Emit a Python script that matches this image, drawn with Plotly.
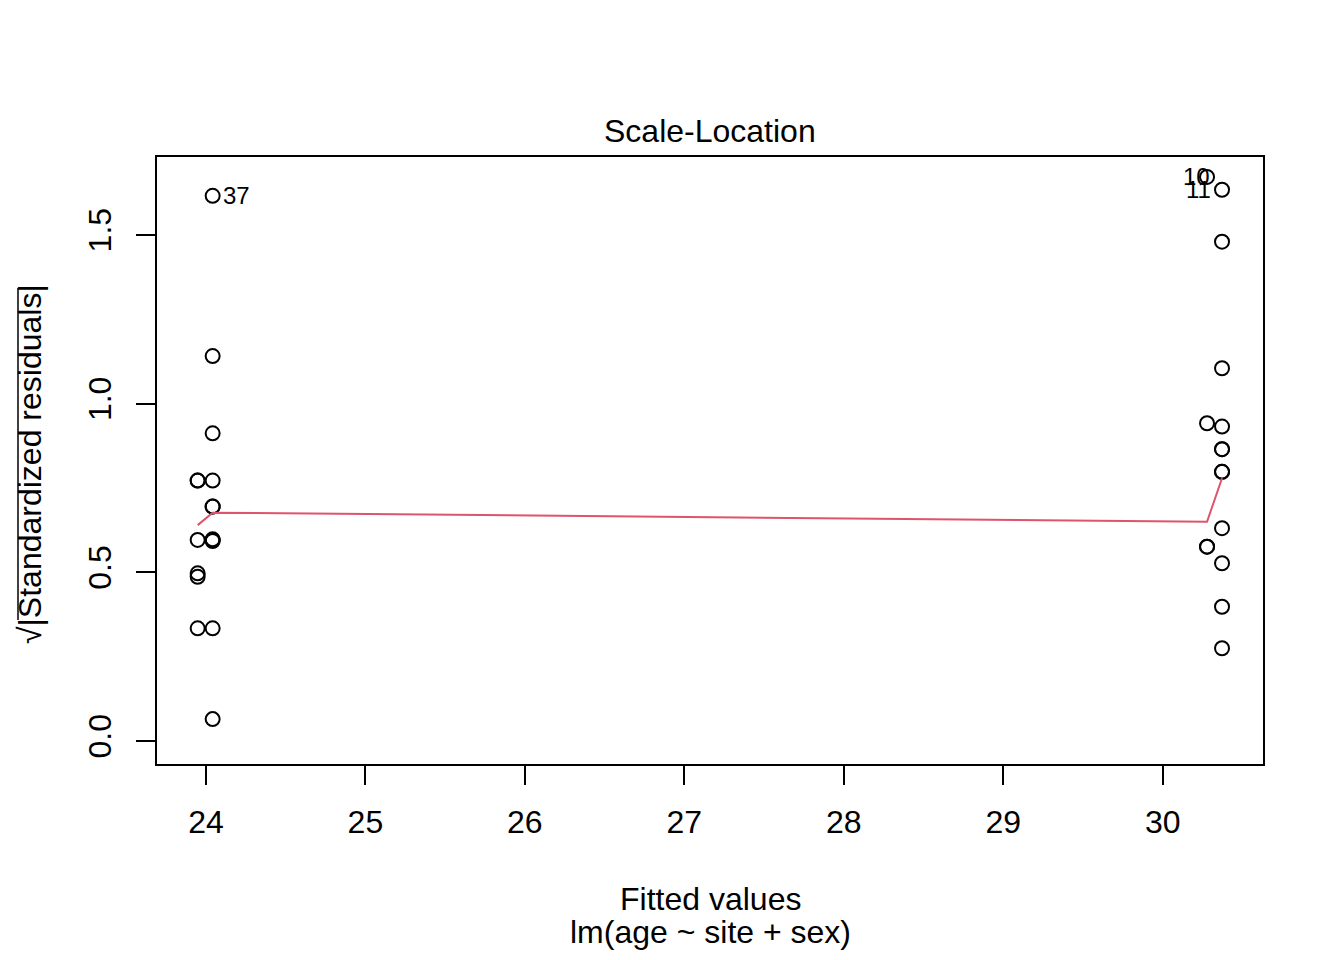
import plotly.graph_objects as go

# ---- data ----
fitted = [23.948]*6 + [24.042]*11 + [30.278]*4 + [30.372]*12
sqrt_std_resid = [
    0.772, 0.772, 0.596, 0.497, 0.487, 0.334,
    1.616, 1.141, 0.912, 0.772, 0.695, 0.695, 0.596, 0.598, 0.593, 0.334, 0.065,
    1.672, 0.942, 0.576, 0.576,
    1.634, 1.480, 1.105, 0.932, 0.865, 0.865, 0.798, 0.798, 0.631, 0.527, 0.398, 0.275,
]
smooth_x = [23.948, 24.042, 30.278, 30.372]
smooth_y = [0.640, 0.677, 0.650, 0.779]
id_labels = ["37", "10", "11"]
id_x = [24.042, 30.278, 30.372]
id_y = [1.616, 1.672, 1.634]
id_anchor = ["left", "right", "right"]
id_shift = [8, 5, -9]
x_ticks = [24, 25, 26, 27, 28, 29, 30]
y_ticks = [0.0, 0.5, 1.0, 1.5]
y_ticktext = ["0.0", "0.5", "1.0", "1.5"]

FONT = "Liberation Sans, Arial, Helvetica, sans-serif"
OFF = 8                      # page body margin
W, H = 1344 - 2 * OFF, 960 - 2 * OFF
L, R, T, B = 157, 1263, 157, 764   # plot area in screen pixels


def px_x(p):
    return (p - L) / (R - L)


def px_y(p):
    return (B - p) / (B - T)


fig = go.Figure()
fig.add_trace(go.Scatter(
    x=fitted, y=sqrt_std_resid, mode="markers",
    marker=dict(symbol="circle-open", size=14, color="black",
                line=dict(color="black", width=2)),
    hoverinfo="x+y", showlegend=False,
))
fig.add_trace(go.Scatter(
    x=smooth_x, y=smooth_y, mode="lines",
    line=dict(color="#DF536B", width=2), showlegend=False,
))

for lab, xx, yy, anc, sh in zip(id_labels, id_x, id_y, id_anchor, id_shift):
    fig.add_annotation(x=xx, y=yy, text=lab, showarrow=False, xanchor=anc,
                       yanchor="middle", xshift=sh,
                       font=dict(family=FONT, size=24, color="black"))

# title and axis titles
fig.add_annotation(xref="paper", yref="paper", x=0.5, y=px_y(131), text="Scale-Location",
                   showarrow=False, xanchor="center", yanchor="middle",
                   font=dict(family=FONT, size=32, color="black"))
fig.add_annotation(xref="paper", yref="paper", x=0.5, y=px_y(899), text="Fitted values",
                   showarrow=False, xanchor="center", yanchor="middle",
                   font=dict(family=FONT, size=32, color="black"))
fig.add_annotation(xref="paper", yref="paper", x=0.5, y=px_y(932), text="lm(age ~ site + sex)",
                   showarrow=False, xanchor="center", yanchor="middle",
                   font=dict(family=FONT, size=32, color="black"))
fig.add_annotation(xref="paper", yref="paper", x=px_x(30), y=px_y(464),
                   text="√|Standardized residuals|", textangle=-90,
                   showarrow=False, xanchor="center", yanchor="middle",
                   font=dict(family=FONT, size=32, color="black"))
# vinculum of the square root
fig.add_shape(type="line", xref="paper", yref="paper",
              x0=px_x(18), x1=px_x(18), y0=px_y(288), y1=px_y(620),
              line=dict(color="black", width=1.5))

axis_common = dict(showgrid=False, zeroline=False, showline=True, mirror=True,
                   linecolor="black", linewidth=2, ticks="outside", ticklen=19,
                   tickwidth=2, tickcolor="black",
                   tickfont=dict(family=FONT, size=32, color="black"))
fig.update_xaxes(range=[23.693, 30.629], tickvals=x_ticks,
                 ticktext=[str(v) for v in x_ticks], ticklabelstandoff=10,
                 **axis_common)
fig.update_yaxes(range=[-0.068, 1.731], tickvals=y_ticks, ticktext=y_ticktext,
                 tickangle=-90, ticklabelstandoff=12, **axis_common)

fig.update_layout(width=W, height=H, autosize=False,
                  margin=dict(l=L - OFF, r=OFF + W - R, t=T - OFF, b=OFF + H - B, pad=0),
                  paper_bgcolor="white", plot_bgcolor="white",
                  font=dict(family=FONT, color="black"))

fig.write_html("out.html")
